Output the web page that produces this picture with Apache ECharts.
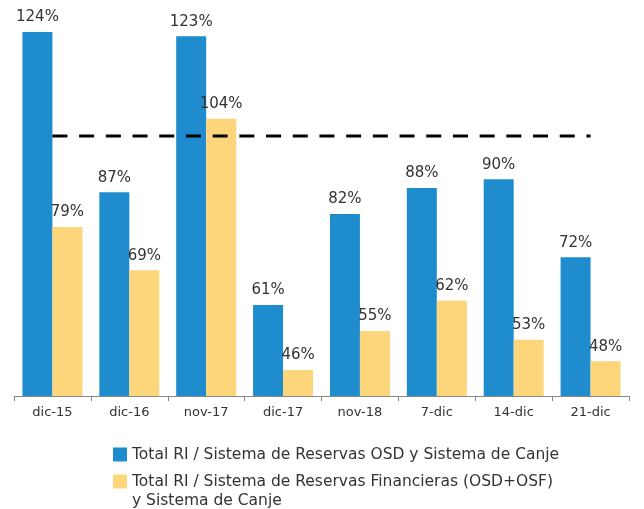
<!DOCTYPE html>
<html>
<head>
<meta charset="utf-8">
<style>
  html, body { margin: 0; padding: 0; background: #fff; }
  #chart { width: 644px; height: 509px; }
</style>
<script src="https://cdn.jsdelivr.net/npm/echarts@6/dist/echarts.min.js"></script>
</head>
<body>
<div id="chart"></div>
<script>
  // datos
  const categories = ['dic-15', 'dic-16', 'nov-17', 'dic-17', 'nov-18', '7-dic', '14-dic', '21-dic']
  const osdCanje = [124, 87, 123, 61, 82, 88, 90, 72]
  const financierasCanje = [79, 69, 104, 46, 55, 62, 53, 48]
  const reference = [100, 100, 100, 100, 100, 100, 100, 100]

  const serieA = 'Total RI / Sistema de Reservas OSD y Sistema de Canje'
  const serieB = 'Total RI / Sistema de Reservas Financieras (OSD+OSF)\ny Sistema de Canje'

  const font = 'DejaVu Sans'
  const chart = echarts.init(document.getElementById('chart'))

  const barLabel = {
    show: true,
    position: 'top',
    distance: 7,
    color: '#333',
    fontSize: 15,
    fontFamily: font,
    formatter: '{c}%'
  }

  const legendText = {
    color: '#333',
    fontSize: 15.5,
    fontFamily: font,
    lineHeight: 19
  }

  chart.setOption({
    animation: false,
    grid: {
      left: 14,
      right: 15,
      top: 6,
      bottom: 113
    },
    legend: [
      {
        left: 113,
        top: 445,
        padding: 0,
        itemWidth: 14,
        itemHeight: 14,
        icon: 'rect',
        data: [serieA],
        textStyle: legendText
      },
      {
        // linea vacia arriba para que el icono quede junto a la primera linea
        left: 113,
        top: 453,
        padding: 0,
        itemWidth: 14,
        itemHeight: 14,
        icon: 'rect',
        data: [serieB],
        formatter: name => '\n' + name,
        textStyle: legendText
      }
    ],
    xAxis: {
      type: 'category',
      data: categories,
      axisLine: {
        lineStyle: {color: '#888', width: 1}
      },
      axisTick: {
        show: true,
        length: 5,
        lineStyle: {color: '#888'}
      },
      axisLabel: {
        color: '#333',
        fontSize: 13,
        fontFamily: font,
        margin: 10
      }
    },
    yAxis: {
      type: 'value',
      min: 40,
      max: 130,
      show: false,
      splitLine: {show: false}
    },
    series: [
      {
        name: serieA,
        type: 'bar',
        data: osdCanje,
        barGap: '0%',
        barCategoryGap: '22%',
        itemStyle: {color: '#1E8CCD'},
        label: barLabel
      },
      {
        name: serieB,
        type: 'bar',
        data: financierasCanje,
        itemStyle: {color: '#FDD57A'},
        label: barLabel
      },
      {
        name: 'referencia',
        type: 'line',
        data: reference,
        symbol: 'none',
        silent: true,
        z: 5,
        lineStyle: {
          color: '#000',
          width: 3,
          type: [15, 11.7]
        }
      }
    ]
  })
</script>
</body>
</html>
